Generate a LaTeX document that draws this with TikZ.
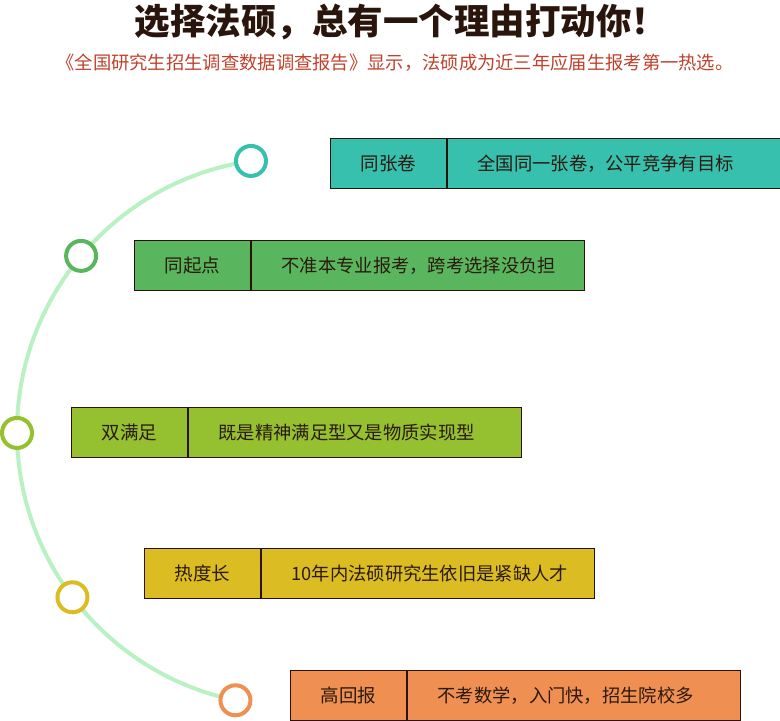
\documentclass[tikz,border=0pt]{standalone}
\usepackage{fontspec}
\setmainfont{Noto Sans CJK SC}
\newfontfamily\cjk{Noto Sans CJK SC}
\definecolor{cteal}{HTML}{38C0AE}
\definecolor{cgreen}{HTML}{5AB65E}
\definecolor{cygreen}{HTML}{95C030}
\definecolor{cmustard}{HTML}{DBBC22}
\definecolor{corange}{HTML}{F08F52}
\definecolor{carc}{HTML}{B9F1C3}
\definecolor{cborder}{HTML}{2B1208}
\definecolor{ctext}{HTML}{2B1A0E}
\definecolor{ctitle}{HTML}{2A150C}
\definecolor{csub}{HTML}{C0402C}
\tikzset{
  ring/.style={circle, draw=#1, line width=4pt, fill=white, minimum size=30pt, inner sep=0pt},
  labelbox/.style={rectangle, draw=cborder, line width=1pt, fill=#1, minimum width=116pt, minimum height=50pt, inner sep=0pt, anchor=north west, text=ctext, font=\cjk\fontsize{18.5}{21}\selectfont},
  textbox/.style={rectangle, draw=cborder, line width=1pt, fill=#1, text width=333pt, minimum height=50pt, inner xsep=0pt, inner ysep=0pt, align=left, anchor=north west, text=ctext, font=\cjk\fontsize{18.3}{21}\selectfont},
}
\newcommand{\padtxt}[1]{\hspace*{30pt}#1}
\begin{document}
\begin{tikzpicture}[x=1pt,y=1pt]
\useasboundingbox (0,0) rectangle (780,721);
% title
\node[font=\cjk\bfseries\fontsize{35.5}{40}\selectfont, text=ctitle] (title) at (401,699) {选择法硕，总有一个理由打动你！};
\node[font=\cjk\fontsize{18.3}{21}\selectfont, text=csub] (sub) at (395,658) {《全国研究生招生调查数据调查报告》显示，法硕成为近三年应届生报考第一热选。};
% arc
\coordinate (ctr) at (291,289);
\draw[carc, line width=4pt] (ctr) ++(98.4:274) arc[start angle=98.4, end angle=258.3, radius=274pt];
% rings
\node[ring=cteal] (c1) at ([shift={(98.4:274)}]ctr) {};
\node[ring=cgreen] (c2) at ([shift={(140:274)}]ctr) {};
\node[ring=cygreen] (c3) at ([shift={(180.2:274)}]ctr) {};
\node[ring=cmustard] (c4) at ([shift={(217.1:274)}]ctr) {};
\node[ring=corange] (c5) at ([shift={(258.3:274)}]ctr) {};
% boxes
\node[labelbox=cteal] (l1) at (330,583) {同张卷};
\node[textbox=cteal] (t1) at (l1.north east) {\padtxt{全国同一张卷，公平竞争有目标}};
\node[labelbox=cgreen] (l2) at (134,481) {同起点};
\node[textbox=cgreen] (t2) at (l2.north east) {\padtxt{不准本专业报考，跨考选择没负担}};
\node[labelbox=cygreen] (l3) at (71,314) {双满足};
\node[textbox=cygreen] (t3) at (l3.north east) {\padtxt{既是精神满足型又是物质实现型}};
\node[labelbox=cmustard] (l4) at (144,173) {热度长};
\node[textbox=cmustard] (t4) at (l4.north east) {\padtxt{10年内法硕研究生依旧是紧缺人才}};
\node[labelbox=corange] (l5) at (290,51) {高回报};
\node[textbox=corange] (t5) at (l5.north east) {\padtxt{不考数学，入门快，招生院校多}};
\end{tikzpicture}
\end{document}
